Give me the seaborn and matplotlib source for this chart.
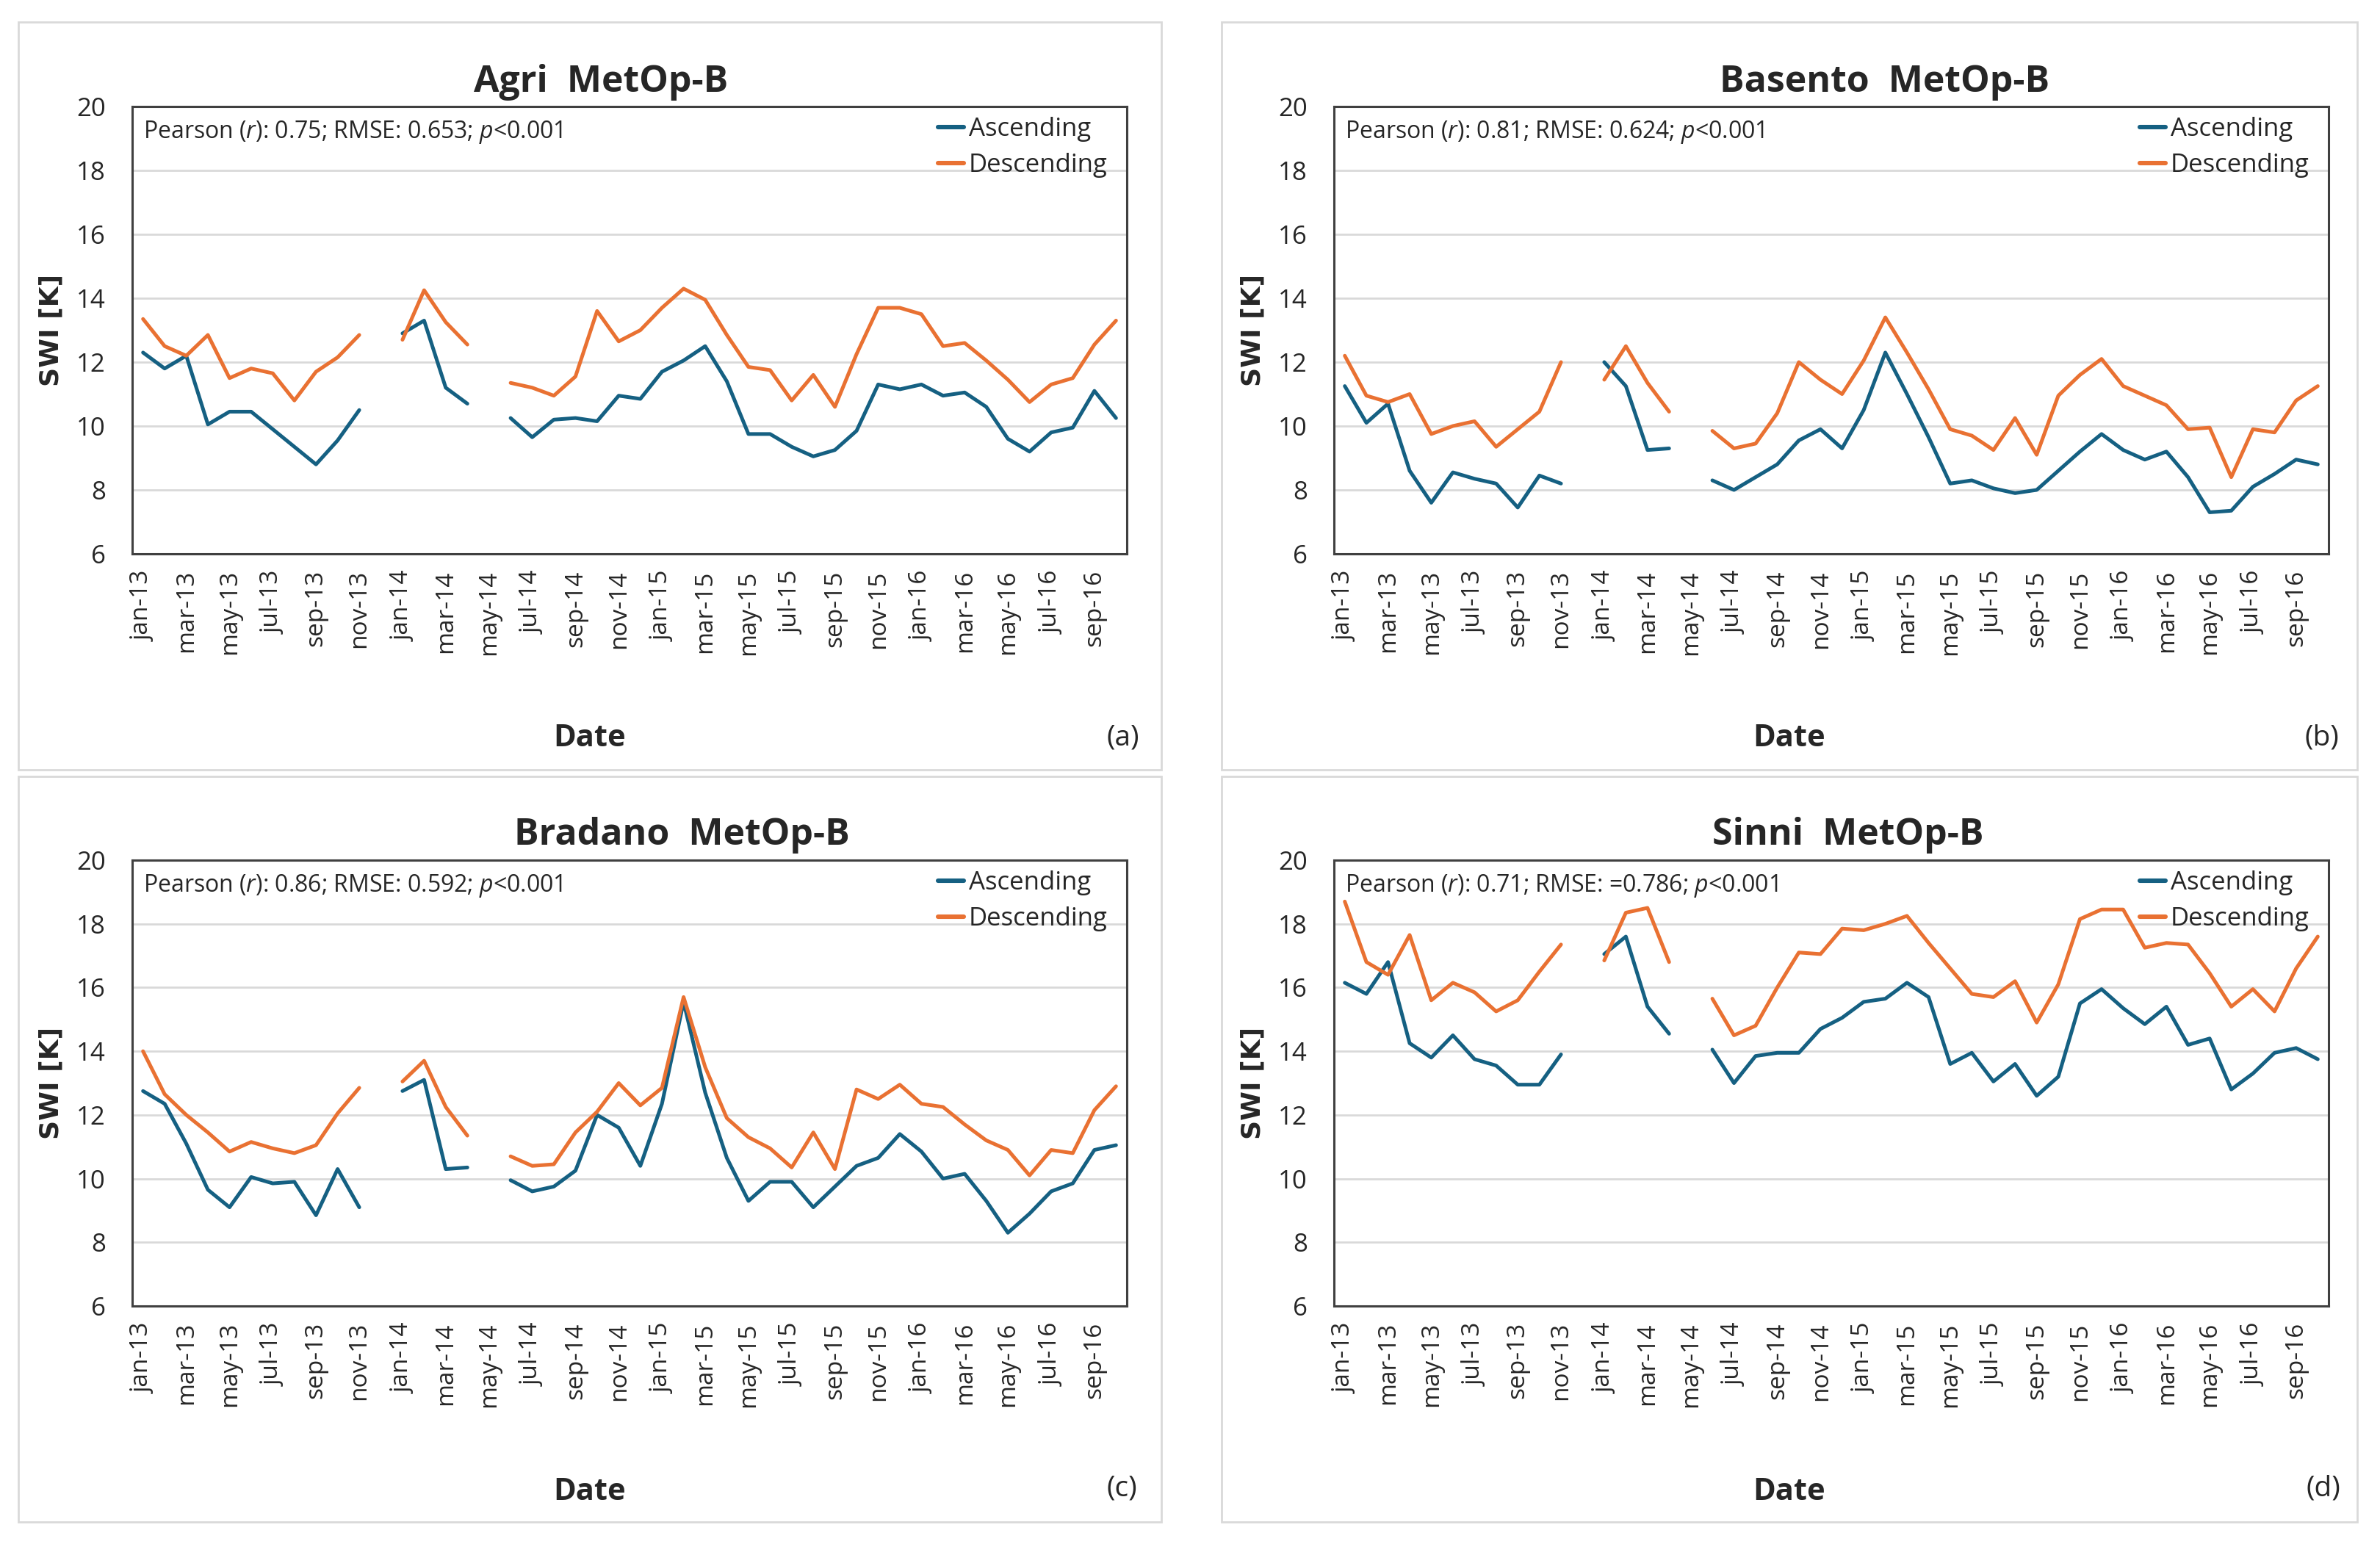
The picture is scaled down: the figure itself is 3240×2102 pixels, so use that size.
import numpy as np
import pandas as pd
import matplotlib
matplotlib.use('Agg')
import matplotlib.pyplot as plt
import seaborn as sns
from matplotlib.patches import Rectangle

# month axis: jan-13 .. oct-16 (46 months), gaps at dec-13 and may-14
months = ['jan', 'feb', 'mar', 'apr', 'may', 'jun', 'jul', 'aug', 'sep', 'oct', 'nov', 'dec']
dates = [m + '-' + y for y in ['13', '14', '15', '16'] for m in months][:46]
tick_labels = dates[::2]

nan = np.nan

agri_asc = [12.3, 11.8, 12.2, 10.05, 10.45, 10.45, 9.9, 9.35, 8.8, 9.55, 10.5, nan,
            12.9, 13.3, 11.2, 10.7, nan,
            10.25, 9.65, 10.2, 10.25, 10.15, 10.95, 10.85,
            11.7, 12.05, 12.5, 11.4, 9.75, 9.75, 9.35, 9.05, 9.25, 9.85, 11.3, 11.15,
            11.3, 10.95, 11.05, 10.6, 9.6, 9.2, 9.8, 9.95, 11.1, 10.25]
agri_desc = [13.35, 12.5, 12.2, 12.85, 11.5, 11.8, 11.65, 10.8, 11.7, 12.15, 12.85, nan,
             12.7, 14.25, 13.25, 12.55, nan,
             11.35, 11.2, 10.95, 11.55, 13.6, 12.65, 13.0,
             13.7, 14.3, 13.95, 12.85, 11.85, 11.75, 10.8, 11.6, 10.6, 12.25, 13.7, 13.7,
             13.5, 12.5, 12.6, 12.05, 11.45, 10.75, 11.3, 11.5, 12.55, 13.3]

basento_asc = [11.25, 10.1, 10.7, 8.6, 7.6, 8.55, 8.35, 8.2, 7.45, 8.45, 8.2, nan,
               12.0, 11.25, 9.25, 9.3, nan,
               8.3, 8.0, 8.4, 8.8, 9.55, 9.9, 9.3,
               10.5, 12.3, 11.0, 9.65, 8.2, 8.3, 8.05, 7.9, 8.0, 8.6, 9.2, 9.75,
               9.25, 8.95, 9.2, 8.4, 7.3, 7.35, 8.1, 8.5, 8.95, 8.8]
basento_desc = [12.2, 10.95, 10.75, 11.0, 9.75, 10.0, 10.15, 9.35, 9.9, 10.45, 12.0, nan,
                11.45, 12.5, 11.35, 10.45, nan,
                9.85, 9.3, 9.45, 10.4, 12.0, 11.45, 11.0,
                12.05, 13.4, 12.3, 11.15, 9.9, 9.7, 9.25, 10.25, 9.1, 10.95, 11.6, 12.1,
                11.25, 10.95, 10.65, 9.9, 9.95, 8.4, 9.9, 9.8, 10.8, 11.25]

bradano_asc = [12.75, 12.35, 11.1, 9.65, 9.1, 10.05, 9.85, 9.9, 8.85, 10.3, 9.1, nan,
               12.75, 13.1, 10.3, 10.35, nan,
               9.95, 9.6, 9.75, 10.25, 12.0, 11.6, 10.4,
               12.35, 15.55, 12.7, 10.65, 9.3, 9.9, 9.9, 9.1, 9.75, 10.4, 10.65, 11.4,
               10.85, 10.0, 10.15, 9.3, 8.3, 8.9, 9.6, 9.85, 10.9, 11.05]
bradano_desc = [14.0, 12.65, 12.0, 11.45, 10.85, 11.15, 10.95, 10.8, 11.05, 12.05, 12.85, nan,
                13.05, 13.7, 12.25, 11.35, nan,
                10.7, 10.4, 10.45, 11.45, 12.1, 13.0, 12.3,
                12.85, 15.7, 13.5, 11.9, 11.3, 10.95, 10.35, 11.45, 10.3, 12.8, 12.5, 12.95,
                12.35, 12.25, 11.7, 11.2, 10.9, 10.1, 10.9, 10.8, 12.15, 12.9]

sinni_asc = [16.15, 15.8, 16.8, 14.25, 13.8, 14.5, 13.75, 13.55, 12.95, 12.95, 13.9, nan,
             17.05, 17.6, 15.4, 14.55, nan,
             14.05, 13.0, 13.85, 13.95, 13.95, 14.7, 15.05,
             15.55, 15.65, 16.15, 15.7, 13.6, 13.95, 13.05, 13.6, 12.6, 13.2, 15.5, 15.95,
             15.35, 14.85, 15.4, 14.2, 14.4, 12.8, 13.3, 13.95, 14.1, 13.75]
sinni_desc = [18.7, 16.8, 16.4, 17.65, 15.6, 16.15, 15.85, 15.25, 15.6, 16.5, 17.35, nan,
              16.85, 18.35, 18.5, 16.8, nan,
              15.65, 14.5, 14.8, 16.0, 17.1, 17.05, 17.85,
              17.8, 18.0, 18.25, 17.4, 16.6, 15.8, 15.7, 16.2, 14.9, 16.1, 18.15, 18.45,
              18.45, 17.25, 17.4, 17.35, 16.45, 15.4, 15.95, 15.25, 16.6, 17.6]

basins = ['Agri', 'Basento', 'Bradano', 'Sinni']
ascending = [agri_asc, basento_asc, bradano_asc, sinni_asc]
descending = [agri_desc, basento_desc, bradano_desc, sinni_desc]
stats_text = ['Pearson ($\\it{r}$): 0.75; RMSE: 0.653; $\\it{p}$<0.001',
              'Pearson ($\\it{r}$): 0.81; RMSE: 0.624; $\\it{p}$<0.001',
              'Pearson ($\\it{r}$): 0.86; RMSE: 0.592; $\\it{p}$<0.001',
              'Pearson ($\\it{r}$): 0.71; RMSE: =0.786; $\\it{p}$<0.001']
letters = ['(a)', '(b)', '(c)', '(d)']

palette = {'Ascending': '#156082', 'Descending': '#E97132'}

sns.set_theme(style='white')
plt.rcParams['font.family'] = ['Open Sans', 'DejaVu Sans']
plt.rcParams['mathtext.fontset'] = 'custom'
plt.rcParams['mathtext.rm'] = 'Open Sans'
plt.rcParams['mathtext.it'] = 'Open Sans:italic'

W, H = 3240, 2102
fig = plt.figure(figsize=(W / 200, H / 200), dpi=200)

# pixel layout (left, top, right, bottom) of plot areas and panel boxes
plot_px = [(180, 145, 1534, 754), (1816, 145, 3170, 754),
           (180, 1171, 1534, 1778), (1816, 1171, 3170, 1778)]
box_px = [(25, 30, 1581, 1048), (1663, 30, 3209, 1048),
          (25, 1057, 1581, 2072), (1663, 1057, 3209, 2072)]
title_x = [818, 2566, 928, 2516]
title_y = [112, 112, 1137, 1137]
label_y = [1006, 1006, 2031, 2031]
letter_xy = [(1529, 1004), (3161, 1004), (1527, 2027), (3163, 2027)]
ylab_x = [70, 1706, 70, 1706]


def fx(px):
    return px / W


def fy(py):
    return 1 - py / H


for i, basin in enumerate(basins):
    bl, bt, br, bb = box_px[i]
    fig.add_artist(Rectangle((fx(bl), fy(bb)), fx(br - bl), (bb - bt) / H,
                             transform=fig.transFigure, fill=False,
                             edgecolor='#d9d9d9', linewidth=1.0, zorder=0))

    l, t, r, b = plot_px[i]
    ax = fig.add_axes([fx(l), fy(b), fx(r - l), (b - t) / H])

    df = pd.DataFrame({
        'x': np.arange(len(dates)).tolist() * 2,
        'swi': list(ascending[i]) + list(descending[i]),
        'orbit': ['Ascending'] * len(dates) + ['Descending'] * len(dates),
    })
    # split each series at missing months so the gaps stay open
    df['segment'] = df.groupby('orbit')['swi'].transform(lambda s: s.isna().cumsum())
    df = df.dropna()

    sns.lineplot(data=df, x='x', y='swi', hue='orbit', units='segment',
                 estimator=None, palette=palette, linewidth=1.8, ax=ax,
                 legend=False)

    ax.set_xlim(-0.5, len(dates) - 0.5)
    ax.set_ylim(6, 20)
    ax.set_yticks(range(6, 21, 2))
    ax.set_xticks(range(0, len(dates), 2))
    ax.set_xticklabels(tick_labels, rotation=90, fontsize=12)
    ax.tick_params(axis='y', labelsize=12.5, length=0, pad=13)
    ax.tick_params(axis='x', length=0, pad=8)
    ax.yaxis.grid(True, color='#d9d9d9', linewidth=1.0)
    ax.set_axisbelow(True)
    for sp in ax.spines.values():
        sp.set_color('#404040')
        sp.set_linewidth(1.1)
    ax.set_xlabel('')
    ax.set_ylabel('')

    ax.text(0.011, 1 - 35 / (b - t), stats_text[i], transform=ax.transAxes,
            ha='left', va='center', fontsize=11.5)

    handles = [plt.Line2D([], [], color=palette[k], linewidth=2.2) for k in palette]
    ax.legend(handles, list(palette), loc='upper left', bbox_to_anchor=(0.805, 0.988),
              frameon=False, fontsize=12.5, handlelength=1.0, handletextpad=0.2,
              labelspacing=0.42, borderaxespad=0.0, borderpad=0.2)

    fig.text(fx(title_x[i]), fy(title_y[i]), basin + '  MetOp-B', ha='center',
             va='center', fontsize=18, fontweight='bold')
    fig.text(fx(ylab_x[i]), fy((t + b) / 2), 'SWI [K]', rotation=90, ha='center',
             va='center', fontsize=13, fontweight='bold', family='DejaVu Sans')
    fig.text(fx((bl + br) / 2), fy(label_y[i]), 'Date', ha='center', va='center',
             fontsize=15, fontweight='bold')
    fig.text(fx(letter_xy[i][0]), fy(letter_xy[i][1]), letters[i], ha='center',
             va='center', fontsize=14)

fig.savefig('out.png', dpi=200, facecolor='white')
